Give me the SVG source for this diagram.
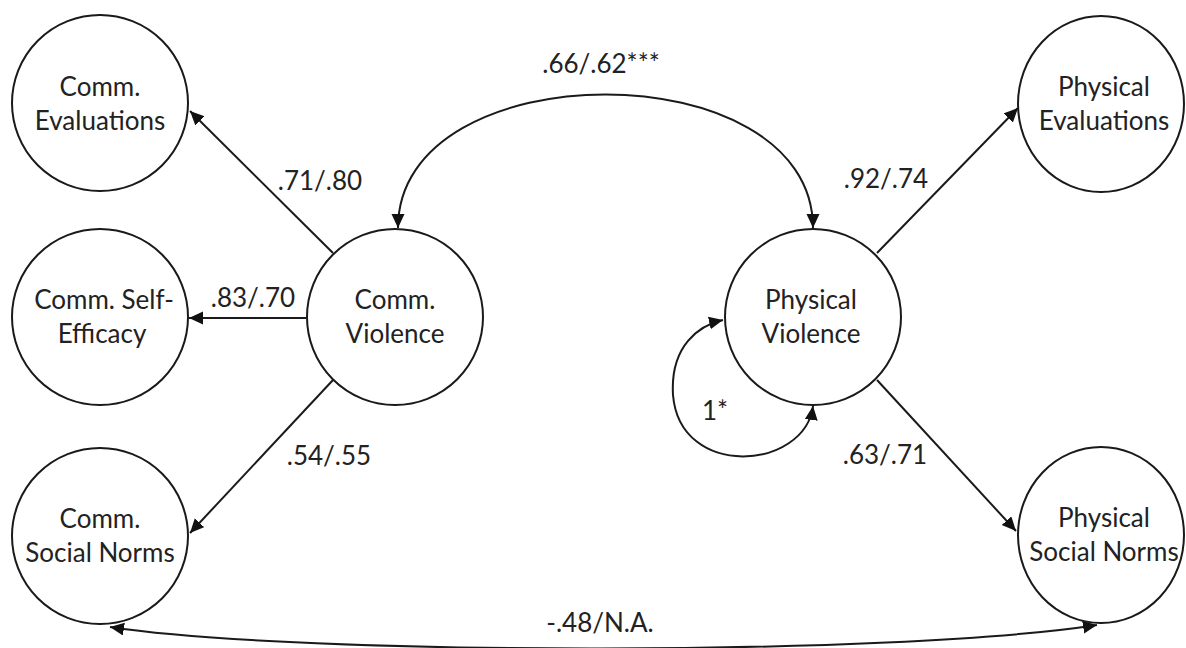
<svg xmlns="http://www.w3.org/2000/svg" width="1186" height="648" viewBox="0 0 1186 648">
<style>
.node{fill:#fff;stroke:#1a1a1a;stroke-width:2}
.lbl{font-family:Lato,"Liberation Sans",sans-serif;font-size:26px;fill:#222;text-anchor:middle}
.edge{fill:none;stroke:#1a1a1a;stroke-width:2}
</style>
<defs>
<marker id="ah" markerUnits="userSpaceOnUse" markerWidth="16" markerHeight="14" refX="14" refY="6.5" orient="auto-start-reverse">
<path d="M0,0 L14,6.5 L0,13 Z" fill="#111"/>
</marker>
</defs>
<rect width="1186" height="648" fill="#fff"/>
<g id="connectors">
<path class="edge" d="M333,253 L190,111" marker-end="url(#ah)"/>
<path class="edge" d="M306,318 L189,318" marker-end="url(#ah)"/>
<path class="edge" d="M333,380 L190,533" marker-end="url(#ah)"/>
<path class="edge" d="M877,253 L1018,108" marker-end="url(#ah)"/>
<path class="edge" d="M877,380 L1016,531" marker-end="url(#ah)"/>
<path class="edge" d="M398,228 C398,50 813,50 813,228" marker-start="url(#ah)" marker-end="url(#ah)"/>
<path class="edge" d="M813,406 C805,470 680,480 673,395 C670,345 700,325 723,320" marker-start="url(#ah)" marker-end="url(#ah)"/>
<path class="edge" d="M110,627 C300,656 900,656 1097,625" marker-start="url(#ah)" marker-end="url(#ah)"/>
<text class="lbl" x="601" y="73">.66/.62***</text>
<text class="lbl" x="320" y="190">.71/.80</text>
<text class="lbl" x="253" y="307">.83/.70</text>
<text class="lbl" x="329" y="465">.54/.55</text>
<text class="lbl" x="886" y="188">.92/.74</text>
<text class="lbl" x="885" y="464">.63/.71</text>
<text class="lbl" x="715" y="420">1*</text>
<text class="lbl" x="600" y="632">-.48/N.A.</text>
</g>
<g id="comm-evaluations">
<circle class="node" cx="100" cy="103" r="88"/>
<text class="lbl" x="100" y="96">Comm.</text>
<text class="lbl" x="100" y="130">Evaluations</text>
</g>
<g id="comm-self-efficacy">
<circle class="node" cx="100" cy="317" r="88"/>
<text class="lbl" x="104" y="309">Comm. Self-</text>
<text class="lbl" x="102" y="343">Efficacy</text>
</g>
<g id="comm-social-norms">
<circle class="node" cx="100" cy="536" r="88"/>
<text class="lbl" x="100" y="528">Comm.</text>
<text class="lbl" x="100" y="562">Social Norms</text>
</g>
<g id="comm-violence">
<circle class="node" cx="395" cy="317" r="88"/>
<text class="lbl" x="395" y="309">Comm.</text>
<text class="lbl" x="395" y="343">Violence</text>
</g>
<g id="physical-violence">
<circle class="node" cx="813" cy="317" r="88"/>
<text class="lbl" x="811" y="309">Physical</text>
<text class="lbl" x="811" y="343">Violence</text>
</g>
<g id="physical-evaluations">
<ellipse class="node" cx="1101" cy="104" rx="83" ry="88"/>
<text class="lbl" x="1104" y="96">Physical</text>
<text class="lbl" x="1104" y="130">Evaluations</text>
</g>
<g id="physical-social-norms">
<ellipse class="node" cx="1101" cy="535" rx="83" ry="88"/>
<text class="lbl" x="1104" y="527">Physical</text>
<text class="lbl" x="1104" y="561">Social Norms</text>
</g>
</svg>
